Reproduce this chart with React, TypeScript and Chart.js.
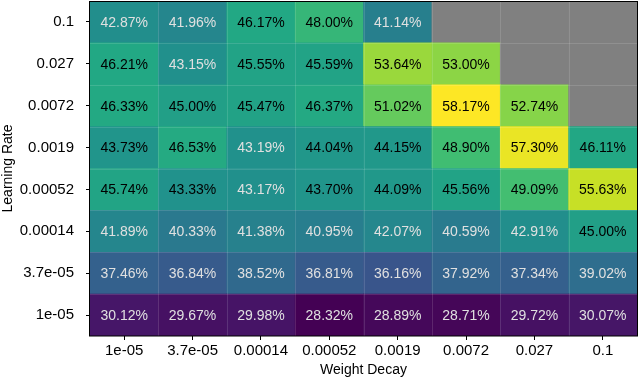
import React, { useEffect, useRef } from "react";
import { Chart, registerables } from "chart.js";

Chart.register(...registerables);

const weightDecayLabels = ["1e-05", "3.7e-05", "0.00014", "0.00052", "0.0019", "0.0072", "0.027", "0.1"];
// rows listed from top to bottom
const learningRateLabels = ["0.1", "0.027", "0.0072", "0.0019", "0.00052", "0.00014", "3.7e-05", "1e-05"];

const accLr0_1 = [42.87, 41.96, 46.17, 48.0, 41.14, null, null, null];
const accLr0_027 = [46.21, 43.15, 45.55, 45.59, 53.64, 53.0, null, null];
const accLr0_0072 = [46.33, 45.0, 45.47, 46.37, 51.02, 58.17, 52.74, null];
const accLr0_0019 = [43.73, 46.53, 43.19, 44.04, 44.15, 48.9, 57.3, 46.11];
const accLr0_00052 = [45.74, 43.33, 43.17, 43.7, 44.09, 45.56, 49.09, 55.63];
const accLr0_00014 = [41.89, 40.33, 41.38, 40.95, 42.07, 40.59, 42.91, 45.0];
const accLr3_7e05 = [37.46, 36.84, 38.52, 36.81, 36.16, 37.92, 37.34, 39.02];
const accLr1e05 = [30.12, 29.67, 29.98, 28.32, 28.89, 28.71, 29.72, 30.07];

const rowsTopToBottom: (number | null)[][] = [
  accLr0_1, accLr0_027, accLr0_0072, accLr0_0019, accLr0_00052, accLr0_00014, accLr3_7e05, accLr1e05,
];

const VIRIDIS = [
  [68, 1, 84], [72, 36, 117], [65, 68, 135], [53, 95, 141], [42, 120, 142],
  [33, 145, 140], [34, 168, 132], [68, 191, 112], [122, 209, 81], [189, 223, 38], [253, 231, 37],
];

function viridis(t: number): string {
  const c = Math.max(0, Math.min(1, t)) * (VIRIDIS.length - 1);
  const i = Math.min(Math.floor(c), VIRIDIS.length - 2);
  const f = c - i;
  const a = VIRIDIS[i], b = VIRIDIS[i + 1];
  const r = Math.round(a[0] + (b[0] - a[0]) * f);
  const g = Math.round(a[1] + (b[1] - a[1]) * f);
  const bl = Math.round(a[2] + (b[2] - a[2]) * f);
  return `rgb(${r},${g},${bl})`;
}

const allVals = rowsTopToBottom.flat().filter((v) => v !== null) as number[];
const vMin = Math.min(...allVals);
const vMax = Math.max(...allVals);
const mid = (vMin + vMax) / 2;

const FONT = "'Liberation Sans', Arial, Helvetica, sans-serif";

export default function App() {
  const ref = useRef<HTMLCanvasElement>(null);
  useEffect(() => {
    document.body.style.margin = "0";
    const rowsBottomUp = [...rowsTopToBottom].reverse();
    const datasets = rowsBottomUp.map((row, k) => ({
      label: learningRateLabels[learningRateLabels.length - 1 - k],
      data: row.map(() => 1),
      values: row,
      backgroundColor: row.map((v) => (v === null ? "#808080" : viridis((v - vMin) / (vMax - vMin)))),
      borderWidth: 0,
      barPercentage: 1,
      categoryPercentage: 1,
    }));

    const cellPlugin = {
      id: "cells",
      afterDatasetsDraw(chart: any) {
        const ctx = chart.ctx;
        const area = chart.chartArea;
        const xs = chart.scales.x;
        const ys = chart.scales.y;
        ctx.save();
        // faint cell separators
        ctx.strokeStyle = "rgba(255,255,255,0.13)";
        ctx.lineWidth = 1;
        for (let i = 1; i < weightDecayLabels.length; i++) {
          const x = Math.round((xs.getPixelForValue(i - 1) + xs.getPixelForValue(i)) / 2) + 0.5;
          ctx.beginPath();
          ctx.moveTo(x, area.top);
          ctx.lineTo(x, area.bottom);
          ctx.stroke();
        }
        for (let i = 1; i < learningRateLabels.length; i++) {
          const y = Math.round(ys.getPixelForValue(i)) + 0.5;
          ctx.beginPath();
          ctx.moveTo(area.left, y);
          ctx.lineTo(area.right, y);
          ctx.stroke();
        }
        // texts
        ctx.font = `14px ${FONT}`;
        ctx.textAlign = "center";
        ctx.textBaseline = "middle";
        chart.data.datasets.forEach((ds: any, di: number) => {
          const meta = chart.getDatasetMeta(di);
          meta.data.forEach((el: any, j: number) => {
            const v = ds.values[j];
            if (v === null) return;
            ctx.fillStyle = v < mid ? "#e0e0e0" : "#000000";
            ctx.fillText(v.toFixed(2) + "%", el.x, (el.y + el.base) / 2 + 1);
          });
        });
        // frame
        ctx.strokeStyle = "#000";
        ctx.lineWidth = 1;
        ctx.strokeRect(Math.round(area.left) - 0.5, Math.round(area.top) + 0.5, Math.round(area.right - area.left) + 1, Math.round(area.bottom - area.top) - 0.5);
        ctx.restore();
      },
    };

    const chart = new Chart(ref.current!, {
      type: "bar",
      data: { labels: weightDecayLabels, datasets: datasets as any },
      options: {
        animation: false,
        responsive: false,
        maintainAspectRatio: false,
        layout: { padding: { top: 1, right: 3, left: 0, bottom: 0 } },
        plugins: { legend: { display: false }, tooltip: { enabled: false } },
        scales: {
          x: {
            stacked: true,
            offset: true,
            grid: { display: true, offset: false, drawOnChartArea: false, drawTicks: true, tickLength: 4, color: "#000", lineWidth: 1 },
            border: { display: false },
            ticks: { color: "#000", font: { family: FONT, size: 15 }, padding: 2, maxRotation: 0, autoSkip: false },
            title: { display: true, text: "Weight Decay", color: "#000", font: { family: FONT, size: 14 }, padding: { top: 0, bottom: 1 } },
            afterFit: (s: any) => { s.height = 44; s.paddingLeft = 0; s.paddingRight = 0; },
          },
          y: {
            stacked: true,
            min: 0,
            max: 8,
            grid: { display: true, drawOnChartArea: false, drawTicks: true, tickLength: 4, color: "#000", lineWidth: 1 },
            border: { display: false },
            afterBuildTicks: (s: any) => {
              s.ticks = learningRateLabels.map((_, i) => ({ value: i + 0.5 }));
            },
            ticks: {
              color: "#000",
              font: { family: FONT, size: 15 },
              padding: 12,
              autoSkip: false,
              callback: (v: any) => learningRateLabels[learningRateLabels.length - 1 - Math.floor(Number(v))],
            },
            title: { display: true, text: "Learning Rate", color: "#000", font: { family: FONT, size: 14 }, padding: { top: 0, bottom: 0 } },
            afterFit: (s: any) => { s.width = 90; s.paddingTop = 0; s.paddingBottom = 0; },
          },
        },
      },
      plugins: [cellPlugin],
    });
    return () => chart.destroy();
  }, []);
  return (
    <div style={{ width: 640, height: 380 }}>
      <canvas ref={ref} width={640} height={380} style={{ display: "block" }} />
    </div>
  );
}
